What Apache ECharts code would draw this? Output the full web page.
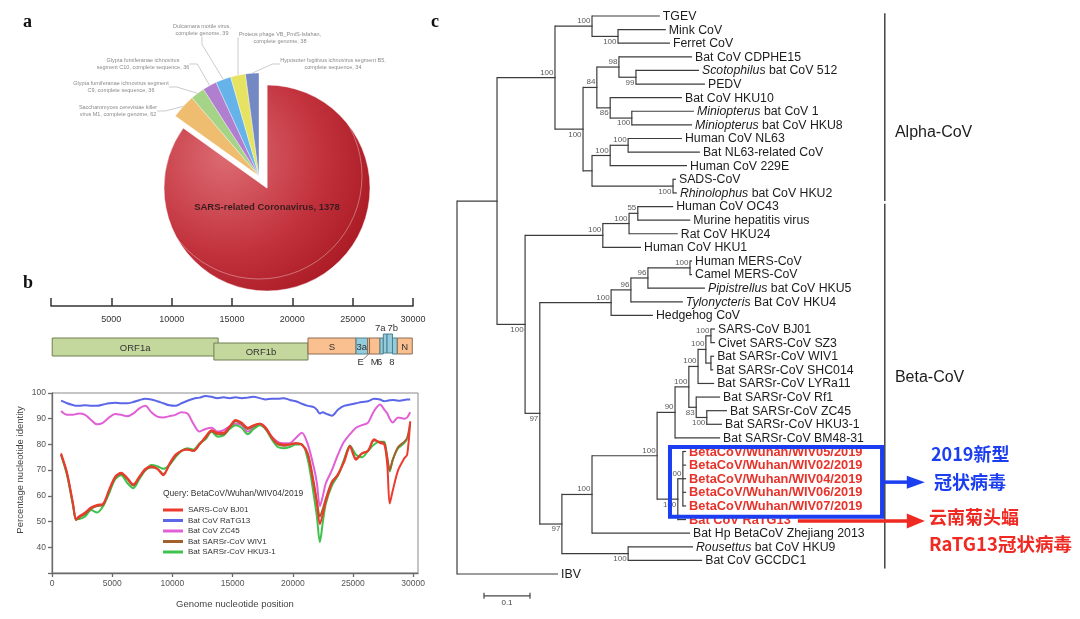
<!DOCTYPE html>
<html>
<head>
<meta charset="utf-8">
<title>Coronavirus figure</title>
<script src="https://cdn.jsdelivr.net/npm/echarts@6.0.0/dist/echarts.min.js"></script>
<style>
html,body{margin:0;padding:0;background:#ffffff;}
#chart{width:1080px;height:619px;}
</style>
</head>
<body>
<div id="chart"></div>
<script>
// ================= Panel a : BLAST hits =================
const pieNames = [
  'SARS-related Coronavirus',
  'Saccharomyces cerevisiae killer\nvirus M1, complete genome',
  'Glypta fumiferanae ichnovirus segment\nC9, complete sequence',
  'Glypta fumiferanae ichnovirus\nsegment C10, complete sequence',
  'Dulcamara mottle virus,\ncomplete genome',
  'Proteus phage VB_PmiS-Isfahan,\ncomplete genome',
  'Hyposoter fugitivus ichnovirus segment B5,\ncomplete sequence'
];
const pieCounts = [1378, 62, 36, 36, 39, 38, 34];
const pieColors = ['#c23a44', '#efbd70', '#a5d387', '#b17fcf', '#66b3ea', '#e6e262', '#7488c4'];

// ================= Panel b (top) : genome map =================
const geneNames = ['ORF1a', 'ORF1b', 'S', '3a', 'E', 'M', '6', '7a', '7b', '8', 'N'];
const geneStart = [100, 13500, 21300, 25280, 26240, 26400, 27265, 27540, 27850, 28300, 28700];
const geneEnd   = [13850, 21300, 25280, 26240, 26400, 27265, 27540, 27850, 28300, 28700, 29940];
const geneKind  = ['orf', 'orf', 'sn', 'acc', 'sn', 'sn', 'acc', 'acc', 'acc', 'acc', 'sn'];

// ================= Panel b (bottom) : similarity plot =================
const positions = [750,1250,1750,2000,2250,2750,3250,3750,4250,4750,5250,5750,6250,6750,7250,7750,8250,8750,9250,9750,
  10250,10750,11250,11750,12250,12750,13250,13750,14250,14750,15250,15750,16250,16750,17250,17750,18250,18750,19250,19750,
  20250,20750,21250,21750,22000,22250,22500,22750,23250,23750,24250,24750,25250,25750,26250,26750,27250,27600,27850,28050,
  28300,28750,29250,29500,29750];
const seriesNames = ['SARS-CoV BJ01', 'Bat CoV RaTG13', 'Bat CoV ZC45', 'Bat SARSr-CoV WIV1', 'Bat SARSr-CoV HKU3-1'];
const identBJ01 = [76.5,69,57,51,52,53.5,55.5,56.5,57,62.5,67.5,69,67,64.5,67.5,70.5,71.5,70.5,68,72.5,
  76,77.5,78,77.5,80,83,85.5,84.5,84.5,87,89.5,88.5,86.5,87.5,88,86.5,83,80.5,80,80,
  80.5,80,76,64,57,49,53,58,65,68.5,73,79,74,76.5,77.5,82,80.5,80,72,57,
  62,70,74.5,76,89];
const identRaTG13 = [97,96,95.3,95,95,95.2,95,95,95.5,96,96.2,96,96,96.5,97.2,97.8,97.5,96.8,96,95.2,
  95,96,97,97.8,98.2,98.8,98.5,98,98.3,98,98.3,98,98.2,98.5,98,97.5,97.8,97.8,98,97.3,
  96.8,95.8,95,94.5,93.5,92,92.5,92,91.2,93.5,95,95.5,96,96.5,96.8,97.8,97.5,96.8,97,97.2,
  97.3,97,97.3,97.5,97.5];
const identZC45 = [93,91.5,91.5,91.8,92,91.5,89.5,87.8,88.5,90.5,91.8,91.5,91,92,94,95,92.5,90.8,90.5,91,
  91.5,92.5,92,88,85,86,86.5,85,85.5,87,88,87.5,85,86.5,88,86.5,83,81,80.5,80.5,
  82.5,84.5,80,71,65,56,60,65,70,76,81,84,86.5,87.5,88.5,93,95.5,93.5,92,90,
  88.5,90.5,90,90.5,92.5];
const identWIV1 = [76,68.5,56.5,50.5,51.5,53,55,56,56.5,62,67,68.5,66.5,64,67,70,71,70.5,68.5,72,
  75.5,77.5,78,77.5,80,82.5,85,84,84,86.5,89,88,86,87,88,86,82.5,80,79.5,80,
  80.5,80,76.5,65,58,52,55,59,65.5,68,73.5,79.5,74.5,76.5,77.5,81.5,81,80.5,75,70,
  74,79,81,82.5,88.5];
const identHKU3 = [76,68,56,51,51,52,54.5,53.5,56,61,66.5,68,65,63,66.5,70,72,71.5,70.5,72,
  75,77.5,78.5,78,80.5,82,85,83,83.5,86,87.5,86.5,84,86,87.5,86,82,79,78.5,79,
  80,80,74,60,52,42,50,57,64,68,74,79.5,76,75,77.5,80,81,81,74,69.5,
  74,78.5,80.5,82,null];
const yTicks = [40, 50, 60, 70, 80, 90, 100];

// ================= Panel c : phylogenetic tree =================
// internal nodes: id, parent, distance from root, bootstrap, label side (a = above, b = below)
const treeNodes = [
  ['root', null, 0, null, ''], ['ing', 'root', 0.087, null, ''],
  ['alpha', 'ing', 0.213, 100, 'a'], ['tmf', 'alpha', 0.2935, 100, 'a'], ['mf', 'tmf', 0.35, 100, 'b'],
  ['b', 'alpha', 0.274, 100, 'b'], ['d', 'b', 0.304, 84, 'a'], ['c', 'd', 0.352, 98, 'a'],
  ['sp', 'c', 0.389, 99, 'b'], ['e', 'd', 0.333, 86, 'b'], ['mi', 'e', 0.380, 100, 'b'],
  ['g', 'b', 0.2935, null, ''], ['f', 'g', 0.333, 100, 'a'], ['nl', 'f', 0.372, 100, 'a'],
  ['sads', 'g', 0.4696, 100, 'b'],
  ['h', 'ing', 0.148, 100, 'b'], ['em', 'h', 0.317, 100, 'a'], ['k', 'em', 0.374, 100, 'a'],
  ['l', 'k', 0.393, 55, 'a'], ['j', 'h', 0.18, 97, 'b'], ['m', 'j', 0.335, 100, 'a'],
  ['n', 'm', 0.378, 96, 'a'], ['o', 'n', 0.415, 96, 'a'], ['mers', 'o', 0.5065, 100, 'a'],
  ['q', 'j', 0.228, 97, 'b'], ['p', 'q', 0.2935, 100, 'a'], ['s', 'p', 0.435, 100, 'a'],
  ['t', 's', 0.474, 90, 'a'], ['w', 't', 0.504, 100, 'a'], ['x', 'w', 0.524, 100, 'a'],
  ['z1', 'x', 0.541, 100, 'a'], ['z0', 'z1', 0.552, 100, 'a'], ['z2', 'z1', 0.552, null, ''],
  ['y', 'w', 0.52, 83, 'b'], ['yz', 'y', 0.543, 100, 'b'], ['u', 's', 0.48, 100, 'b'],
  ['v', 'u', 0.491, 100, 'a'], ['rn', 'q', 0.372, 100, 'b']
];
const leafNames = ['TGEV', 'Mink CoV', 'Ferret CoV', 'Bat CoV CDPHE15', '*Scotophilus* bat CoV 512', 'PEDV',
  'Bat CoV HKU10', '*Miniopterus* bat CoV 1', '*Miniopterus* bat CoV HKU8', 'Human CoV NL63',
  'Bat NL63-related CoV', 'Human CoV 229E', 'SADS-CoV', '*Rhinolophus* bat CoV HKU2', 'Human CoV OC43',
  'Murine hepatitis virus', 'Rat CoV HKU24', 'Human CoV HKU1', 'Human MERS-CoV', 'Camel MERS-CoV',
  '*Pipistrellus* bat CoV HKU5', '*Tylonycteris* Bat CoV HKU4', 'Hedgehog CoV', 'SARS-CoV BJ01',
  'Civet SARS-CoV SZ3', 'Bat SARSr-CoV WIV1', 'Bat SARSr-CoV SHC014', 'Bat SARSr-CoV LYRa11',
  'Bat SARSr-CoV Rf1', 'Bat SARSr-CoV ZC45', 'Bat SARSr-CoV HKU3-1', 'Bat SARSr-CoV BM48-31',
  'BetaCoV/Wuhan/WIV05/2019', 'BetaCoV/Wuhan/WIV02/2019', 'BetaCoV/Wuhan/WIV04/2019',
  'BetaCoV/Wuhan/WIV06/2019', 'BetaCoV/Wuhan/WIV07/2019', 'Bat CoV RaTG13',
  'Bat Hp BetaCoV Zhejiang 2013', '*Rousettus* bat CoV HKU9', 'Bat CoV GCCDC1', 'IBV'];
const leafParent = ['tmf','mf','mf','c','sp','sp','e','mi','mi','nl','nl','f','sads','sads','l','l','k','em',
  'mers','mers','o','n','m','z0','z0','z2','z2','x','y','yz','yz','t','v','v','v','v','v','u','p','rn','rn','root'];
const leafDepth = [0.441,0.454,0.463,0.511,0.526,0.539,0.489,0.515,0.511,0.489,0.528,0.5,0.476,0.478,
  0.47,0.507,0.48,0.4,0.511,0.511,0.539,0.491,0.426,0.561,0.561,0.559,0.557,0.559,0.572,0.587,0.576,0.572,
  0.498,0.498,0.498,0.498,0.498,0.498,0.5065,0.513,0.533,0.2196];
const highlighted = ['BetaCoV/Wuhan/WIV05/2019', 'BetaCoV/Wuhan/WIV02/2019', 'BetaCoV/Wuhan/WIV04/2019',
  'BetaCoV/Wuhan/WIV06/2019', 'BetaCoV/Wuhan/WIV07/2019', 'Bat CoV RaTG13'];
const cladeNames = ['Alpha-CoV', 'Beta-CoV'];
const cladeFirstLeaf = ['TGEV', 'Human CoV OC43'];
const cladeLastLeaf = ['*Rhinolophus* bat CoV HKU2', 'Bat CoV GCCDC1'];
const scaleBarLength = 0.1;

// ---------------- build tree geometry (from the arrays above) ----------------
const FONT = '"Liberation Sans", Arial, sans-serif';
const items = {};
treeNodes.forEach(n => { items[n[0]] = {id: n[0], parent: n[1], x: n[2], support: n[3], side: n[4], leaf: false, kids: []}; });
leafNames.forEach((nm, i) => { items['L' + i] = {id: 'L' + i, parent: leafParent[i], x: leafDepth[i], leaf: true, name: nm, y: i, kids: []}; });
Object.values(items).forEach(it => { if (it.parent) items[it.parent].kids.push(it.id); });
function yOf(id) {
  const it = items[id];
  if (it.y !== undefined) return it.y;
  const ys = it.kids.map(yOf);
  it.yTop = Math.min.apply(null, ys); it.yBot = Math.max.apply(null, ys);
  it.y = (it.yTop + it.yBot) / 2;
  return it.y;
}
yOf('root');
const treeItems = Object.values(items);
treeItems.forEach(it => { it.px = it.parent ? items[it.parent].x : null; });

function richify(s) { return s.replace(/\*([^*]+)\*/g, '{i|$1}'); }

// ---------------- layout helpers (positions / styles only) ----------------
const pieLabelAt = [[118, 111], [121, 87], [143, 64], [202, 30], [280, 38], [333, 64]];
const geneBox = { // top, bottom (in map rows), label mode, label dx
  'ORF1a': [32, 50, 'in', 0], 'ORF1b': [37, 54, 'in', 0], 'S': [32, 48, 'in', 0], '3a': [32, 48, 'in', 0],
  'E': [32, 48, 'E', 0], 'M': [32, 48, 'below', 0], '6': [32, 48, 'below', -2], '7a': [28, 47, 'above', -5],
  '7b': [28, 47, 'above', 3], '8': [32, 48, 'below', -3], 'N': [32, 48, 'in', 0]
};
const geneColor = {orf: ['#c4d79c', '#6f7f50'], sn: ['#fac090', '#8d6c52'], acc: ['#93cddd', '#4f7f8d']};

const small = pieCounts.slice(1).reduce((a, b) => a + b, 0);
const redData = [
  {name: pieNames[0], value: pieCounts[0], itemStyle: {color: new echarts.graphic.RadialGradient(0.3, 0.35, 0.85, [
    {offset: 0, color: '#dc6b72'}, {offset: 0.55, color: '#c2323d'}, {offset: 1, color: '#a3141f'}])}},
  {name: 'rest', value: small, itemStyle: {color: 'rgba(0,0,0,0)'}, label: {show: false}}
];
const smallData = [{name: 'main', value: pieCounts[0], itemStyle: {color: 'rgba(0,0,0,0)'}, label: {show: false}, labelLine: {show: false}}]
  .concat(pieNames.slice(1).map((nm, i) => ({name: nm, value: pieCounts[i + 1], itemStyle: {color: pieColors[i + 1]}})));

function lineSeries(name, vals, color, z) {
  return {type: 'line', name: name, xAxisIndex: 0, yAxisIndex: 0, data: positions.map((x, i) => [x, vals[i]]),
    showSymbol: false, smooth: 0.3, z: z, lineStyle: {width: 2, color: color}, itemStyle: {color: color}, silent: true};
}

function renderGene(params, api) {
  const i = params.dataIndex, nm = geneNames[i], lay = geneBox[nm], col = geneColor[geneKind[i]];
  const x0 = api.coord([geneStart[i], 0])[0], x1 = api.coord([geneEnd[i], 0])[0];
  const y0 = api.coord([0, lay[0]])[1], y1 = api.coord([0, lay[1]])[1];
  const kids = [{type: 'rect', shape: {x: x0, y: y0, width: x1 - x0, height: y1 - y0}, style: {fill: col[0], stroke: col[1], lineWidth: 1}}];
  const cx = (x0 + x1) / 2 + lay[3];
  const ts = {fill: '#333', fontSize: 9.5, fontFamily: FONT, align: 'center'};
  if (lay[2] === 'in') kids.push({type: 'text', x: cx, y: (y0 + y1) / 2 + 1, style: Object.assign({text: nm, verticalAlign: 'middle'}, ts)});
  else if (lay[2] === 'below') kids.push({type: 'text', x: cx, y: y1 + 3, style: Object.assign({text: nm, verticalAlign: 'top'}, ts)});
  else if (lay[2] === 'above') kids.push({type: 'text', x: cx, y: y0 - 1, style: Object.assign({text: nm, verticalAlign: 'bottom'}, ts)});
  else if (lay[2] === 'E') {
    kids.push({type: 'text', x: cx - 8, y: y1 + 3, style: Object.assign({text: nm, verticalAlign: 'top'}, ts)});
    kids.push({type: 'line', shape: {x1: cx - 5, y1: y1 + 5, x2: cx, y2: y1}, style: {stroke: '#555', lineWidth: 0.8}});
  }
  return {type: 'group', children: kids};
}

function renderTree(params, api) {
  const it = treeItems[params.dataIndex];
  const p = api.coord([it.x, it.y]);
  const kids = [];
  const st = {stroke: '#3c3c3c', lineWidth: 1.2};
  if (it.px !== null) {
    const q = api.coord([it.px, it.y]);
    kids.push({type: 'line', shape: {x1: q[0], y1: p[1], x2: p[0] + (it.leaf ? 0 : 0.6), y2: p[1]}, style: st});
  }
  if (!it.leaf) {
    const a = api.coord([it.x, it.yTop]), b = api.coord([it.x, it.yBot]);
    kids.push({type: 'line', shape: {x1: p[0], y1: a[1] - 0.6, x2: p[0], y2: b[1] + 0.6}, style: st});
    if (it.support != null) {
      const up = it.side === 'a';
      kids.push({type: 'text', x: p[0] - 1.5, y: p[1] + (up ? -1.2 : 1.2), style: {text: String(it.support), fill: '#5a5a5a',
        fontSize: 8, fontFamily: FONT, align: 'right', verticalAlign: up ? 'bottom' : 'top'}});
    }
  } else {
    const hl = highlighted.indexOf(it.name) >= 0;
    kids.push({type: 'text', x: p[0] + 3, y: p[1] + 0.5, style: {text: richify(it.name), fill: hl ? '#e8332b' : '#1c1c1c',
      fontSize: hl ? 12.8 : 12.3, fontWeight: hl ? 'bold' : 'normal', fontFamily: FONT, align: 'left', verticalAlign: 'middle',
      rich: {i: {fontStyle: 'italic', fontSize: 12.3, fontFamily: FONT, fill: '#1c1c1c'}}}});
  }
  return {type: 'group', children: kids};
}

function leafIndex(nm) { return leafNames.indexOf(nm); }

function renderDecor(params, api) {
  const kids = [];
  // clade brackets
  cladeNames.forEach((nm, i) => {
    const a = leafIndex(cladeFirstLeaf[i]), b = leafIndex(cladeLastLeaf[i]);
    const t = api.coord([0.930, a - 0.2]), bt = api.coord([0.930, b + 0.6]);
    kids.push({type: 'line', shape: {x1: t[0], y1: t[1], x2: t[0], y2: bt[1]}, style: {stroke: '#444', lineWidth: 1.5}});
    const lp = api.coord([0.952, i === 0 ? 8.6 : 26.6]);
    kids.push({type: 'text', x: lp[0], y: lp[1], style: {text: nm, fill: '#1c1c1c', fontSize: 16, fontFamily: FONT, align: 'left', verticalAlign: 'middle'}});
  });
  // highlight box round the Wuhan sequences
  const f = leafIndex(highlighted[0]), l = leafIndex(highlighted[4]);
  const b0 = api.coord([0.463, f - 0.33]), b1 = api.coord([0.924, l + 0.8]);
  kids.push({type: 'rect', shape: {x: b0[0], y: b0[1], width: b1[0] - b0[0], height: b1[1] - b0[1]}, style: {fill: 'none', stroke: '#1b3ef0', lineWidth: 4}});
  // arrows
  function arrow(xs, xe, yi, color, hw) {
    const s = api.coord([xs, yi]), e = api.coord([xe, yi]);
    kids.push({type: 'line', shape: {x1: s[0], y1: s[1], x2: e[0] - 14, y2: s[1]}, style: {stroke: color, lineWidth: 3.5}});
    kids.push({type: 'polygon', shape: {points: [[e[0] - 18, s[1] - hw], [e[0], s[1]], [e[0] - 18, s[1] + hw]]}, style: {fill: color}});
  }
  arrow(0.926, 1.017, (f + l) / 2 + 0.25, '#1b3ef0', 6.5);
  arrow(0.741, 1.017, leafIndex(highlighted[5]) + 0.1, '#ee2a22', 7.5);
  // scale bar
  const sb0 = api.coord([0.0587, 42.6]), sb1 = api.coord([0.0587 + scaleBarLength, 42.6]);
  kids.push({type: 'line', shape: {x1: sb0[0], y1: sb0[1], x2: sb1[0], y2: sb1[1]}, style: {stroke: '#444', lineWidth: 1.2}});
  kids.push({type: 'line', shape: {x1: sb0[0], y1: sb0[1] - 3, x2: sb0[0], y2: sb0[1] + 3}, style: {stroke: '#444', lineWidth: 1.2}});
  kids.push({type: 'line', shape: {x1: sb1[0], y1: sb1[1] - 3, x2: sb1[0], y2: sb1[1] + 3}, style: {stroke: '#444', lineWidth: 1.2}});
  kids.push({type: 'text', x: (sb0[0] + sb1[0]) / 2, y: sb0[1] + 3, style: {text: String(scaleBarLength), fill: '#444', fontSize: 8, fontFamily: FONT, align: 'center', verticalAlign: 'top'}});
  return {type: 'group', children: kids};
}

const chart = echarts.init(document.getElementById('chart'), null, {renderer: 'canvas', width: 1080, height: 619});
const axisGray = '#6a6a6a';
chart.setOption({
  animation: false,
  backgroundColor: '#ffffff',
  textStyle: {fontFamily: FONT},
  title: {text: 'Query: BetaCoV/Wuhan/WIV04/2019', left: 163, top: 489, padding: 0,
    textStyle: {fontSize: 8.5, fontWeight: 'normal', color: '#333', fontFamily: FONT}},
  legend: {data: seriesNames, orient: 'vertical', left: 163, top: 505, padding: 0, icon: 'rect', itemWidth: 20, itemHeight: 3,
    itemGap: 0.5, selectedMode: false, textStyle: {fontSize: 8, color: '#333', lineHeight: 10, fontFamily: FONT}},
  grid: [
    {left: 52, top: 393, width: 366, height: 180, show: true, borderColor: '#8a8a8a', borderWidth: 1, outerBoundsMode: 'none', containLabel: false},
    {left: 51, top: 306, width: 362, height: 60, outerBoundsMode: 'none', containLabel: false},
    {left: 457, top: 16, width: 460, height: 558, outerBoundsMode: 'none', containLabel: false}
  ],
  xAxis: [
    {gridIndex: 0, type: 'value', min: 0, max: 30400, interval: 5000,
      axisLine: {show: true, lineStyle: {color: axisGray, width: 1.3}}, axisTick: {show: true, length: 4, lineStyle: {color: axisGray, width: 1.3}},
      axisLabel: {fontSize: 8.5, color: '#555', margin: 6, showMaxLabel: false, formatter: v => (v > 30000 ? '' : String(v))},
      splitLine: {show: false},
      name: 'Genome nucleotide position', nameLocation: 'middle', nameGap: 26, nameTextStyle: {fontSize: 9.5, color: '#444'}},
    {gridIndex: 1, type: 'value', min: 0, max: 30000, interval: 5000, position: 'top',
      axisLine: {show: true, lineStyle: {color: '#333', width: 1.5}}, axisTick: {show: true, inside: false, length: 8, lineStyle: {color: '#333', width: 1.5}},
      axisLabel: {inside: true, margin: 9, fontSize: 9, color: '#333', formatter: v => (v === 0 ? '' : String(v))},
      splitLine: {show: false}},
    {gridIndex: 2, type: 'value', min: 0, max: 1, show: false}
  ],
  yAxis: [
    {gridIndex: 0, type: 'value', min: 30, max: 100, interval: 10,
      axisLine: {show: true, lineStyle: {color: axisGray, width: 1.3}}, axisTick: {show: true, length: 4, lineStyle: {color: axisGray, width: 1.3}},
      axisLabel: {fontSize: 8.5, color: '#555', margin: 6, formatter: v => (yTicks.indexOf(v) >= 0 ? String(v) : '')},
      splitLine: {show: false},
      name: 'Percentage nucleotide identity', nameLocation: 'middle', nameGap: 27, nameRotate: 90,
      nameTextStyle: {fontSize: 9.5, color: '#444', padding: [0, 0, 0, 26]}},
    {gridIndex: 1, type: 'value', min: 0, max: 60, inverse: true, show: false},
    {gridIndex: 2, type: 'value', min: 0, max: 41, inverse: true, show: false}
  ],
  graphic: [
    {type: 'text', x: 23, y: 22, style: {text: 'a', font: 'bold 18px "Liberation Serif", serif', fill: '#111', verticalAlign: 'middle'}},
    {type: 'text', x: 23, y: 283, style: {text: 'b', font: 'bold 18px "Liberation Serif", serif', fill: '#111', verticalAlign: 'middle'}},
    {type: 'text', x: 431, y: 22, style: {text: 'c', font: 'bold 18px "Liberation Serif", serif', fill: '#111', verticalAlign: 'middle'}},
    {type: 'text', x: 931, y: 454, style: {text: '2019新型', font: 'bold 18px "Noto Sans CJK SC"', fill: '#1b3ef0', verticalAlign: 'middle'}},
    {type: 'text', x: 934, y: 482, style: {text: '冠状病毒', font: 'bold 18px "Noto Sans CJK SC"', fill: '#1b3ef0', verticalAlign: 'middle'}},
    {type: 'text', x: 929, y: 517, style: {text: '云南菊头蝠', font: 'bold 18px "Noto Sans CJK SC"', fill: '#ee2a22', verticalAlign: 'middle'}},
    {type: 'text', x: 929, y: 544, style: {text: 'RaTG13冠状病毒', font: 'bold 18.5px "Noto Sans CJK SC"', fill: '#ee2a22', verticalAlign: 'middle'}}
  ],
  series: [
    {type: 'pie', name: 'main', center: [267, 188], radius: 103, startAngle: 90, clockwise: true, silent: true,
      data: redData, itemStyle: {borderColor: '#fff', borderWidth: 0.5},
      label: {show: true, position: 'center', offset: [0, 19], formatter: '{b}, {c}', fontSize: 9.5, fontWeight: 'bold', color: '#3a1c1e', fontFamily: FONT},
      labelLine: {show: false}, emphasis: {disabled: true}},
    {type: 'pie', name: 'others', center: [259, 176], radius: 103, startAngle: 90, clockwise: true, silent: true,
      avoidLabelOverlap: false, data: smallData, itemStyle: {borderColor: 'rgba(255,255,255,0.7)', borderWidth: 0.5},
      label: {show: true, position: 'outside', formatter: '{b}, {c}', fontSize: 5.5, lineHeight: 6.5, color: '#8a8a8a', fontFamily: FONT, alignTo: 'none'},
      labelLine: {show: true, length: 8, length2: 8, lineStyle: {color: '#b5b5b5', width: 0.7}},
      labelLayout: function (prm) {
        const pos = pieLabelAt[prm.dataIndex - 1];
        if (!pos) return {};
        return {x: pos[0], y: pos[1], align: 'center', verticalAlign: 'middle'};
      },
      emphasis: {disabled: true}},
    {type: 'custom', name: 'genome', xAxisIndex: 1, yAxisIndex: 1, silent: true, renderItem: renderGene,
      data: geneNames.map((n, i) => [geneStart[i], geneEnd[i]]), encode: {x: [0, 1]}},
    lineSeries(seriesNames[4], identHKU3, '#3ec24c', 3),
    lineSeries(seriesNames[3], identWIV1, '#a2602d', 4),
    lineSeries(seriesNames[0], identBJ01, '#ee3a2e', 5),
    lineSeries(seriesNames[2], identZC45, '#e160d6', 2),
    lineSeries(seriesNames[1], identRaTG13, '#5b66e8', 2),
    {type: 'custom', name: 'tree', xAxisIndex: 2, yAxisIndex: 2, silent: true, renderItem: renderTree,
      data: treeItems.map(it => [it.x, it.y]), encode: {x: 0, y: 1}},
    {type: 'custom', name: 'decor', xAxisIndex: 2, yAxisIndex: 2, silent: true, renderItem: renderDecor,
      data: [[0, 0]], encode: {x: 0, y: 1}}
  ]
});
</script>
</body>
</html>
